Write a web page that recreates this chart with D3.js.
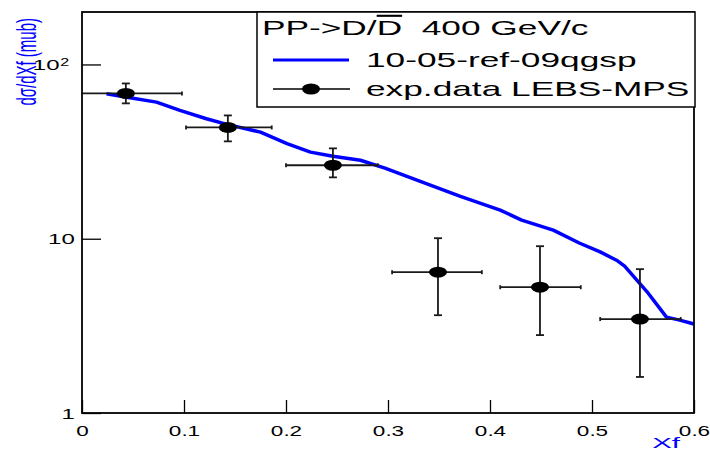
<!DOCTYPE html>
<html>
<head>
<meta charset="utf-8">
<script src="https://cdn.jsdelivr.net/npm/d3@7/dist/d3.min.js"></script>
<style>
  body { margin: 0; background: #fff; }
  text { font-family: "Liberation Sans", Arial, sans-serif; }
</style>
</head>
<body>
<svg id="chart" width="710" height="452"></svg>
<script>
var width = 710,
    height = 452;
var sx = 1.6; // text in the original is stretched sideways

// model curve (10-05-ref-09qgsp)
var curveX = [0.024, 0.044, 0.073, 0.096, 0.122, 0.142, 0.175, 0.201, 0.224, 0.246, 0.273, 0.297,
              0.331, 0.371, 0.410, 0.431, 0.462, 0.488, 0.508, 0.524, 0.532, 0.554, 0.573, 0.586, 0.600];
var curveY = [67.9, 64.9, 60.8, 54.5, 48.8, 45.3, 40.9, 35.1, 31.4, 29.7, 28.2, 25.4,
              21.4, 17.5, 14.6, 12.8, 11.2, 9.42, 8.40, 7.53, 6.96, 4.96, 3.55, 3.41, 3.24];

// exp.data LEBS-MPS
var dataX   = [0.043, 0.143, 0.246, 0.349, 0.449, 0.547];
var dataY   = [68.2, 43.5, 26.4, 6.43, 5.27, 3.46];
var dataYHi = [77.8, 51.0, 33.0, 10.07, 9.06, 6.69];
var dataYLo = [59.8, 36.2, 22.5, 3.64, 2.80, 1.61];
var dataXLo = [0.000, 0.102, 0.200, 0.304, 0.410, 0.508];
var dataXHi = [0.098, 0.186, 0.290, 0.392, 0.489, 0.587];

var xMajor = [0, 0.1, 0.2, 0.3, 0.4, 0.5, 0.6];
var xMinor = d3.range(0, 0.6001, 0.02);
var yMajor = [1, 10, 100];
var yMinor = [2, 3, 4, 5, 6, 7, 8, 9, 20, 30, 40, 50, 60, 70, 80, 90, 200];

var x = d3.scaleLinear().domain([0, 0.6]).range([82, 694]);
var y = d3.scaleLog().domain([1, 200]).range([413, 12]);

var svg = d3.select("#chart");

// curve
var line = d3.line()
    .x(function(d, i) { return x(curveX[i]); })
    .y(function(d, i) { return y(curveY[i]); });

svg.append("path")
    .attr("d", line(curveX))
    .attr("fill", "none")
    .attr("stroke", "#0000ff")
    .attr("stroke-width", 3.5)
    .attr("stroke-linejoin", "round");

// error bars
var pts = svg.selectAll(".pt")
    .data(dataX)
    .enter().append("g")
    .attr("class", "pt")
    .attr("stroke", "#1a1a1a")
    .attr("stroke-width", 1.8);

pts.append("line")
    .attr("x1", function(d, i) { return x(dataXLo[i]); })
    .attr("x2", function(d, i) { return x(dataXHi[i]); })
    .attr("y1", function(d, i) { return y(dataY[i]); })
    .attr("y2", function(d, i) { return y(dataY[i]); });
pts.append("line")
    .attr("x1", function(d, i) { return x(dataXHi[i]); })
    .attr("x2", function(d, i) { return x(dataXHi[i]); })
    .attr("y1", function(d, i) { return y(dataY[i]) - 2; })
    .attr("y2", function(d, i) { return y(dataY[i]) + 2; });
pts.filter(function(d, i) { return dataXLo[i] > 0; }).append("line")
    .attr("x1", function(d) { var i = dataX.indexOf(d); return x(dataXLo[i]); })
    .attr("x2", function(d) { var i = dataX.indexOf(d); return x(dataXLo[i]); })
    .attr("y1", function(d) { var i = dataX.indexOf(d); return y(dataY[i]) - 2; })
    .attr("y2", function(d) { var i = dataX.indexOf(d); return y(dataY[i]) + 2; });
pts.append("line")
    .attr("x1", function(d) { return x(d); })
    .attr("x2", function(d) { return x(d); })
    .attr("y1", function(d, i) { return y(dataYLo[i]); })
    .attr("y2", function(d, i) { return y(dataYHi[i]); });
pts.append("line")
    .attr("x1", function(d) { return x(d) - 4; })
    .attr("x2", function(d) { return x(d) + 4; })
    .attr("y1", function(d, i) { return y(dataYLo[i]); })
    .attr("y2", function(d, i) { return y(dataYLo[i]); });
pts.append("line")
    .attr("x1", function(d) { return x(d) - 4; })
    .attr("x2", function(d) { return x(d) + 4; })
    .attr("y1", function(d, i) { return y(dataYHi[i]); })
    .attr("y2", function(d, i) { return y(dataYHi[i]); });
pts.append("ellipse")
    .attr("cx", function(d) { return x(d); })
    .attr("cy", function(d, i) { return y(dataY[i]); })
    .attr("rx", 9)
    .attr("ry", 5.5)
    .attr("fill", "#000")
    .attr("stroke", "none");

// axes (ticks point inward like ROOT)
var gx = svg.append("g").attr("transform", "translate(0,413)");
gx.call(d3.axisBottom(x).tickValues(xMinor).tickSize(-6.5).tickFormat(""));
gx.call(d3.axisBottom(x).tickValues(xMajor).tickSize(-13).tickPadding(12)
    .tickFormat(function(d) { return d === 0 ? "0" : d3.format(".1f")(d); }));

var gy = svg.append("g").attr("transform", "translate(82,0)");
gy.call(d3.axisLeft(y).tickValues(yMinor).tickSize(-9).tickFormat(""));
gy.call(d3.axisLeft(y).tickValues(yMajor).tickSize(-19).tickPadding(9)
    .tickFormat(function(d) { return d === 100 ? "10" : String(d); }));

svg.selectAll(".domain").remove();
svg.selectAll(".tick line").attr("stroke", "#000").attr("stroke-width", 1.3);
svg.selectAll(".tick text")
    .attr("font-family", "Liberation Sans, Arial, sans-serif")
    .attr("font-size", 15)
    .attr("fill", "#000");
gx.selectAll(".tick text").attr("transform", "scale(1.5,1)");
gy.selectAll(".tick text").attr("transform", "scale(" + sx + ",1)").attr("x", -4.5).attr("dy", "0.35em");
gy.selectAll(".tick text").filter(function(d) { return d === 100; })
    .attr("x", -8)
    .append("tspan").attr("dy", "-0.45em").attr("dx", 0.5).attr("font-size", 10).text("2");

// frame
svg.append("rect")
    .attr("x", 82).attr("y", 12)
    .attr("width", 612).attr("height", 401)
    .attr("fill", "none")
    .attr("stroke", "#000")
    .attr("stroke-width", 1.8);

// axis titles
svg.append("text")
    .attr("transform", "translate(36,18) scale(1.8,1) rotate(-90)")
    .attr("text-anchor", "end")
    .attr("font-size", 15)
    .attr("fill", "#0000ff")
    .text("dσ/dXf (mub)");

svg.append("text")
    .attr("transform", "translate(680,448) scale(2.1,1)")
    .attr("text-anchor", "end")
    .attr("font-size", 14)
    .attr("fill", "#0000ff")
    .text("Xf");

// legend
var ls = 1.68;
var leg = svg.append("g");
leg.append("rect")
    .attr("x", 257).attr("y", 12)
    .attr("width", 438).attr("height", 95)
    .attr("fill", "#fff")
    .attr("stroke", "#000")
    .attr("stroke-width", 1.5);

var title = leg.append("text")
    .attr("transform", "translate(262,35) scale(" + ls + ",1)")
    .attr("font-size", 21);
title.append("tspan").text("PP->D/");
title.append("tspan").attr("text-decoration", "overline").text("D");
title.append("tspan").text("\u00a0 400 GeV/c");

leg.append("line")
    .attr("x1", 273).attr("x2", 349).attr("y1", 60).attr("y2", 60)
    .attr("stroke", "#0000ff").attr("stroke-width", 3);
leg.append("text")
    .attr("transform", "translate(366,67) scale(" + ls + ",1)")
    .attr("font-size", 21)
    .text("10-05-ref-09qgsp");

leg.append("line")
    .attr("x1", 273).attr("x2", 350).attr("y1", 89).attr("y2", 89)
    .attr("stroke", "#000").attr("stroke-width", 1.3);
leg.append("ellipse")
    .attr("cx", 311).attr("cy", 89).attr("rx", 9).attr("ry", 5.5)
    .attr("fill", "#000");
leg.append("text")
    .attr("transform", "translate(366,96) scale(" + ls + ",1)")
    .attr("font-size", 21)
    .text("exp.data LEBS-MPS");
</script>
</body>
</html>
